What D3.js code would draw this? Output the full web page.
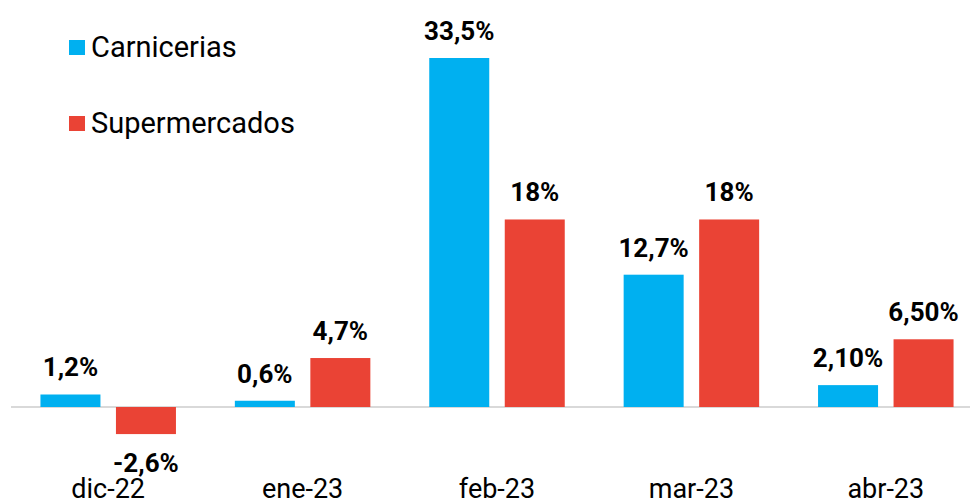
<!DOCTYPE html>
<html><head><meta charset="utf-8">
<script src="https://cdn.jsdelivr.net/npm/d3@7"></script>
<style>body{margin:0;background:#fff}svg{display:block;font-family:Roboto,sans-serif}</style>
</head><body>
<script>
const categories = ["dic-22","ene-23","feb-23","mar-23","abr-23"];
const seriesNames = ["Carnicerias","Supermercados"];
const carnicerias = [1.2, 0.6, 33.5, 12.7, 2.1];
const supermercados = [-2.6, 4.7, 18, 18, 6.5];
const carniceriasLabels = ["1,2%","0,6%","33,5%","12,7%","2,10%"];
const supermercadosLabels = ["-2,6%","4,7%","18%","18%","6,50%"];
const colors = ["#00B0F0","#EA4335"];

const W = 970, H = 501;
const svg = d3.select("body").append("svg").attr("width", W).attr("height", H);

const x = d3.scaleBand().domain(categories).range([11, 983]).paddingInner(0).paddingOuter(0);
const y = d3.scaleLinear().domain([0, 33.5]).range([407, 58]);

const series = [carnicerias, supermercados];
const labels = [carniceriasLabels, supermercadosLabels];
const barW = 60, gap = 15.5;
const groupW = barW * 2 + gap;

// zero line
svg.append("line").attr("x1", 11).attr("x2", W).attr("y1", y(0)).attr("y2", y(0))
  .attr("stroke", "#d9d9d9").attr("stroke-width", 2);

series.forEach((vals, s) => {
  const g = svg.append("g");
  g.selectAll("rect").data(vals).join("rect")
    .attr("x", (d, i) => x(categories[i]) + x.bandwidth()/2 - groupW/2 + s*(barW+gap))
    .attr("width", barW)
    .attr("y", d => y(Math.max(0, d)))
    .attr("height", d => Math.abs(y(d) - y(0)))
    .attr("fill", colors[s]);
  g.selectAll("text").data(vals).join("text")
    .attr("x", (d, i) => x(categories[i]) + x.bandwidth()/2 - groupW/2 + s*(barW+gap) + barW/2)
    .attr("y", d => d >= 0 ? y(d) - 18 : y(d) + 38)
    .attr("text-anchor", "middle")
    .attr("font-size", 26).attr("font-weight", "bold").attr("fill", "#000")
    .text((d, i) => labels[s][i]);
});

// category axis labels
svg.append("g").selectAll("text").data(categories).join("text")
  .attr("x", d => x(d) + x.bandwidth()/2)
  .attr("y", 498)
  .attr("text-anchor", "middle")
  .attr("font-size", 27).attr("fill", "#000")
  .text(d => d);

// legend
const leg = svg.append("g");
seriesNames.forEach((n, i) => {
  const yy = 40 + i*76;
  leg.append("rect").attr("x", 69).attr("y", yy).attr("width", 16).attr("height", 15).attr("fill", colors[i]);
  leg.append("text").attr("x", 91).attr("y", yy + 17).attr("font-size", 29).attr("fill", "#000").text(n);
});
</script>
</body></html>
